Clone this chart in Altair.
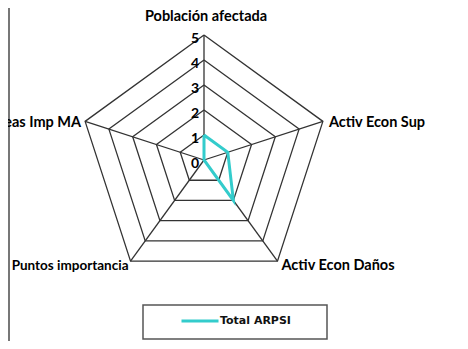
import altair as alt
import numpy as np
import pandas as pd

# ---- data ----
categories = ["Población afectada", "Activ Econ Sup", "Activ Econ Daños",
              "Puntos importancia", "Áreas Imp MA"]
values = [1, 1, 2, 0, 0]
series_name = "Total ARPSI"
grid_levels = [1, 2, 3, 4, 5]
tick_labels = ["0", "1", "2", "3", "4", "5"]

n = len(categories)
angles = [i * 2 * np.pi / n for i in range(n)]
rmax = max(grid_levels)

grid_rows = []
for lv in grid_levels:
    for k in range(n + 1):
        i = k % n
        grid_rows.append({"level": lv, "order": k,
                          "x": lv * np.sin(angles[i]), "y": lv * np.cos(angles[i])})
grid_df = pd.DataFrame(grid_rows)

spoke_df = pd.DataFrame({
    "cat": categories,
    "x": [0.0] * n, "y": [0.0] * n,
    "x2": [rmax * np.sin(a) for a in angles],
    "y2": [rmax * np.cos(a) for a in angles],
})

series_rows = []
for k in range(n + 1):
    i = k % n
    series_rows.append({"series": series_name, "order": k, "cat": categories[i],
                        "x": values[i] * np.sin(angles[i]),
                        "y": values[i] * np.cos(angles[i])})
series_df = pd.DataFrame(series_rows)

tick_df = pd.DataFrame({"label": tick_labels,
                        "x": [0.0] * len(tick_labels),
                        "y": [float(t) for t in tick_labels]})

label_df = pd.DataFrame({"cat": categories, "idx": list(range(n)),
                         "x": [rmax * np.sin(a) for a in angles],
                         "y": [rmax * np.cos(a) for a in angles]})

# ---- scales ----
W, H = 452, 333
xs = alt.Scale(domain=[-7.84, 10.24], nice=False, zero=False)
ys = alt.Scale(domain=[-7.24, 6.08], nice=False, zero=False)
X = lambda f="x": alt.X(f"{f}:Q", scale=xs, axis=None)
Y = lambda f="y": alt.Y(f"{f}:Q", scale=ys, axis=None)

grid = alt.Chart(grid_df).mark_line(color="#333333", strokeWidth=1.3).encode(
    x=X(), y=Y(), detail="level:N", order="order:Q")

spokes = alt.Chart(spoke_df).mark_rule(color="#333333", strokeWidth=1.3).encode(
    x=X(), y=Y(), x2="x2:Q", y2="y2:Q")

series = alt.Chart(series_df).mark_line(strokeWidth=3).encode(
    x=X(), y=Y(), order="order:Q",
    color=alt.Color("series:N",
                    scale=alt.Scale(domain=[series_name], range=["#33CCCC"]),
                    legend=alt.Legend(orient="none", legendX=172, legendY=293,
                                      title=None, symbolType="stroke",
                                      symbolSize=1369, symbolStrokeWidth=3,
                                      labelFont="DejaVu Sans",
                                      labelFontWeight="bold", labelFontSize=11,
                                      labelColor="#111111", labelOffset=0,
                                      padding=0)))

ticks = alt.Chart(tick_df).mark_text(
    align="right", baseline="middle", dx=-5, dy=4,
    font="Lato", fontWeight="bold", fontSize=14, color="#000000").encode(
    x=X(), y=Y(), text="label:N")

# align, baseline, dx, dy, size
label_style = [("center", "middle", 2, -18, 14.5),
               ("left", "middle", 6, 2, 14.5),
               ("left", "middle", 4, 5, 14.5),
               ("right", "middle", -2, 5, 13.5),
               ("right", "middle", -4, 2, 14.5)]
label_layers = []
for i, (al, bl, dx, dy, fs) in enumerate(label_style):
    label_layers.append(
        alt.Chart(label_df).transform_filter(alt.datum.idx == i).mark_text(
            align=al, baseline=bl, dx=dx, dy=dy, font="Lato",
            fontWeight="bold", fontSize=fs, color="#000000").encode(
            x=X(), y=Y(), text="cat:N"))

frame_df = pd.DataFrame({"k": [0]})
legend_box = alt.Chart(frame_df).mark_rect(
    fill="white", stroke="#555555", strokeWidth=1.5).encode(
    x=alt.value(135), x2=alt.value(319), y=alt.value(297), y2=alt.value(331))
left_border = alt.Chart(frame_df).mark_rule(color="#777777", strokeWidth=2).encode(
    x=alt.value(1), y=alt.value(0), y2=alt.value(H))

chart = alt.layer(
    left_border, legend_box, grid, spokes, series, ticks, *label_layers
).properties(
    width=W, height=H, padding=0, autosize=alt.AutoSizeParams(type="none"),
    background="white"
).configure_view(stroke=None)

chart.save("out.html", embed_options={"renderer": "svg", "actions": False})
